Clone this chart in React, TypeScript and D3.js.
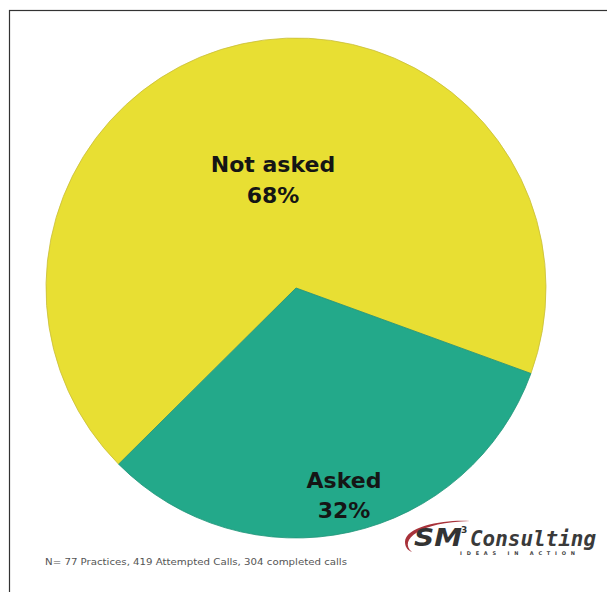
import React from "react";
import * as d3 from "d3";

const categories = ["Not asked", "Asked"];
const values = [68, 32];
const labels = ["68%", "32%"];
const colors = ["#E8DF33", "#23A98A"];
const footnote = "N= 77 Practices, 419 Attempted Calls, 304 completed calls";

export default function App() {
  const W = 607, H = 592;
  const cx = 296, cy = 288, r = 250;
  // Asked slice starts at ~110deg (clockwise from 12 o'clock)
  const askedStart = (110 / 180) * Math.PI;
  const total = d3.sum(values);
  const askedSpan = (values[1] / total) * 2 * Math.PI;
  const pie = d3
    .pie<number>()
    .sort(null)
    .startAngle(askedStart + askedSpan - 2 * Math.PI)
    .endAngle(askedStart + askedSpan);
  const arcs = pie(values);
  const arcGen = d3.arc<d3.PieArcDatum<number>>().innerRadius(0).outerRadius(r);

  const labelPos = [
    { x: 273, y1: 172, y2: 203 },
    { x: 344, y1: 488, y2: 518 },
  ];

  return (
    <svg
      width={W}
      height={H}
      style={{ position: "absolute", left: 0, top: 0, background: "#fff" }}
    >
      <rect x={9.5} y={10.5} width={700} height={700} fill="#fff" stroke="#333" strokeWidth={1.2} />
      <g transform={`translate(${cx},${cy})`}>
        {arcs.map((a, i) => (
          <path
            key={categories[i]}
            d={arcGen(a) || ""}
            fill={colors[i]}
            stroke={i === 0 ? "#C9BE3A" : "#1F9478"}
            strokeWidth={0.8}
          />
        ))}
      </g>
      {categories.map((c, i) => (
        <g key={c} fontFamily="DejaVu Sans, Verdana, sans-serif" fontWeight="bold" fontSize={22} fill="#151515" textAnchor="middle">
          <text x={labelPos[i].x} y={labelPos[i].y1}>{c}</text>
          <text x={labelPos[i].x} y={labelPos[i].y2}>{labels[i]}</text>
        </g>
      ))}
      <text
        x={45}
        y={565}
        fontFamily="DejaVu Sans Condensed, DejaVu Sans, sans-serif"
        fontSize={9.5}
        fill="#555"
        textLength={302}
        lengthAdjust="spacingAndGlyphs"
      >
        {footnote}
      </text>
      {/* logo */}
      <g>
        <path
          d="M 412 552 C 398 540, 420 522, 470 521 C 450 519, 405 525, 405 542 C 405 548, 409 551, 412 552 Z"
          fill="#A8323A"
        />
        <text x={414} y={546} fontFamily="DejaVu Sans, sans-serif" fontWeight="bold" fontStyle="italic" fontSize={25} fill="#333" textLength={48} lengthAdjust="spacingAndGlyphs">SM</text>
        <text x={461} y={533} fontFamily="DejaVu Sans, sans-serif" fontWeight="bold" fontSize={9} fill="#333">3</text>
        <text x={470} y={546} fontFamily="DejaVu Sans Mono, DejaVu Sans, sans-serif" fontWeight="bold" fontStyle="italic" fontSize={21} fill="#3a3a3a" textLength={126} lengthAdjust="spacingAndGlyphs">Consulting</text>
        <text x={460} y={555} fontFamily="DejaVu Sans, sans-serif" fontWeight="bold" fontSize={5} fill="#444" textLength={115} lengthAdjust="spacing">IDEAS IN ACTION</text>
      </g>
    </svg>
  );
}
